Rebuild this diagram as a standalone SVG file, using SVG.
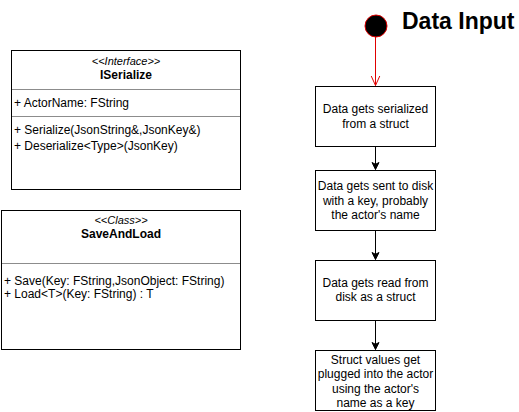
<svg xmlns="http://www.w3.org/2000/svg" width="519" height="412" viewBox="0 0 519 412">
<style>
text{font-family:"Liberation Sans",Arial,sans-serif;font-size:12px;fill:#000}
.c{text-anchor:middle}
.b{font-weight:bold}
.i{font-style:italic;font-size:11px}
.box{fill:#fff;stroke:#000;stroke-width:1}
.div{stroke:#000;stroke-width:1;stroke-opacity:0.45}
.edge{stroke:#000;stroke-width:1;fill:none}
</style>
<defs>
<marker id="arr" markerWidth="10" markerHeight="10" refX="8" refY="5" orient="auto" markerUnits="userSpaceOnUse">
<path d="M1,1.5 L8,5 L1,8.5 L2.8,5 Z" fill="#000" stroke="#000"/>
</marker>
<marker id="open" markerWidth="12" markerHeight="12" refX="10" refY="6" orient="auto" markerUnits="userSpaceOnUse">
<path d="M0,1.5 L10,6 L0,10.5" fill="none" stroke="#e00000"/>
</marker>
</defs>
<rect width="519" height="412" fill="#fff"/>
<g id="iserialize">
<rect class="box" x="11.5" y="50.5" width="229" height="139"/>
<line class="div" x1="11.5" y1="89.5" x2="240.5" y2="89.5"/>
<line class="div" x1="11.5" y1="116.5" x2="240.5" y2="116.5"/>
<text class="c i" x="126" y="65">&lt;&lt;Interface&gt;&gt;</text>
<text class="c b" x="126" y="79">ISerialize</text>
<text x="14" y="107">+ ActorName: FString</text>
<text x="14" y="134">+ Serialize(JsonString&amp;,JsonKey&amp;)</text>
<text x="14" y="150">+ Deserialize&lt;Type&gt;(JsonKey)</text>
</g>
<g id="saveandload">
<rect class="box" x="1.5" y="210.5" width="239" height="139"/>
<line class="div" x1="1.5" y1="263.5" x2="240.5" y2="263.5"/>
<text class="c i" x="121" y="224">&lt;&lt;Class&gt;&gt;</text>
<text class="c b" x="121" y="238">SaveAndLoad</text>
<text x="4" y="285">+ Save(Key: FString,JsonObject: FString)</text>
<text x="4" y="298">+ Load&lt;T&gt;(Key: FString) : T</text>
</g>
<g id="start">
<circle cx="376" cy="26" r="11" fill="#000" stroke="#e00000" stroke-width="1"/>
</g>
<g id="title">
<text x="402" y="29" style="font-size:23px;font-weight:bold">Data Input</text>
</g>
<g id="step1">
<rect class="box" x="315.5" y="86.5" width="120" height="60"/>
<text class="c" x="375.5" y="113">Data gets serialized</text>
<text class="c" x="375.5" y="128">from a struct</text>
</g>
<g id="step2">
<rect class="box" x="315.5" y="170.5" width="120" height="60"/>
<text class="c" x="375.5" y="190">Data gets sent to disk</text>
<text class="c" x="375.5" y="204.5">with a key, probably</text>
<text class="c" x="375.5" y="219">the actor's name</text>
</g>
<g id="step3">
<rect class="box" x="315.5" y="260.5" width="120" height="60"/>
<text class="c" x="375.5" y="286.5">Data gets read from</text>
<text class="c" x="375.5" y="301">disk as a struct</text>
</g>
<g id="step4">
<rect class="box" x="315.5" y="350.5" width="120" height="60"/>
<text class="c" x="375.5" y="363.5">Struct values get</text>
<text class="c" x="375.5" y="378">plugged into the actor</text>
<text class="c" x="375.5" y="392.5">using the actor's</text>
<text class="c" x="375.5" y="407">name as a key</text>
</g>
<g id="connectors">
<line x1="375.5" y1="37" x2="375.5" y2="85.5" stroke="#e00000" stroke-width="1" marker-end="url(#open)"/>
<line class="edge" x1="375.5" y1="146.5" x2="375.5" y2="169.5" marker-end="url(#arr)"/>
<line class="edge" x1="375.5" y1="230.5" x2="375.5" y2="259.5" marker-end="url(#arr)"/>
<line class="edge" x1="375.5" y1="320.5" x2="375.5" y2="349.5" marker-end="url(#arr)"/>
</g>
</svg>
